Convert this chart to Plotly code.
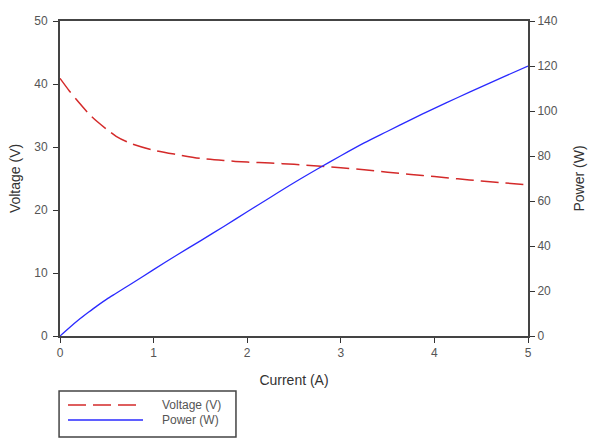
import plotly.graph_objects as go

current = [0, 0.1, 0.2, 0.3, 0.4, 0.5, 0.6, 0.75, 1.0, 1.25, 1.5, 1.75, 2.0, 2.25, 2.5, 2.75, 3.0, 3.25, 3.5, 3.75, 4.0, 4.25, 4.5, 4.75, 5.0]
voltage = [40.9, 38.9, 37.1, 35.4, 34.0, 32.8, 31.7, 30.6, 29.5, 28.8, 28.2, 27.85, 27.6, 27.45, 27.25, 27.0, 26.7, 26.4, 26.0, 25.65, 25.3, 24.95, 24.6, 24.3, 24.0]
power = [0, 3.7, 7.2, 10.4, 13.5, 16.4, 19.0, 22.9, 29.5, 36.0, 42.3, 48.7, 55.2, 61.7, 68.1, 74.2, 80.1, 85.8, 91.0, 96.2, 101.2, 106.0, 110.7, 115.4, 120.0]

legend_labels = ["Voltage (V)", "Power (W)"]

RED = "#d42a2a"
BLUE = "#2a2aff"
FONT = "Liberation Sans, Arial, sans-serif"
TITLE_FONT = dict(family=FONT, size=14, color="#333")

fig = go.Figure()
fig.add_trace(go.Scatter(x=current, y=voltage, mode="lines", name=legend_labels[0], showlegend=False,
                         line=dict(color=RED, width=1.5, dash="18px,7px", shape="spline", smoothing=0.8)))
fig.add_trace(go.Scatter(x=current, y=power, mode="lines", name=legend_labels[1], yaxis="y2", showlegend=False,
                         line=dict(color=BLUE, width=1.3, shape="spline", smoothing=0.8)))

axis_common = dict(showgrid=False, zeroline=False, ticks="outside", ticklen=5,
                   tickcolor="#333", linecolor="#444", linewidth=2,
                   tickfont=dict(family=FONT, size=12, color="#555"))

# Manual legend box (paper coordinates relative to plot area)
row_y = [-0.2190, -0.2667]
shapes = [
    dict(type="rect", xref="paper", yref="paper", x0=-0.002, x1=0.376, y0=-0.3206, y1=-0.1746,
         line=dict(color="#444", width=1.5), fillcolor="white", layer="above"),
    dict(type="line", xref="paper", yref="paper", x0=0.0171, x1=0.1774, y0=row_y[0], y1=row_y[0],
         line=dict(color=RED, width=1.5, dash="18px,7px")),
    dict(type="line", xref="paper", yref="paper", x0=0.0171, x1=0.1774, y0=row_y[1], y1=row_y[1],
         line=dict(color=BLUE, width=1.3)),
]
annotations = [
    dict(text=legend_labels[i], xref="paper", yref="paper", x=0.2137, y=row_y[i], xanchor="left",
         yanchor="middle", showarrow=False, font=dict(family=FONT, size=12, color="#555"))
    for i in range(2)
]

fig.update_layout(
    width=593, height=441,
    margin=dict(l=60, r=65, t=21, b=105, autoexpand=False),
    paper_bgcolor="white", plot_bgcolor="white",
    font=dict(family=FONT, color="#222"),
    showlegend=False,
    shapes=shapes,
    annotations=annotations,
    xaxis=dict(range=[0, 5], tickvals=[0, 1, 2, 3, 4, 5], mirror=True,
               title=dict(text="Current (A)", font=TITLE_FONT, standoff=16),
               **axis_common),
    yaxis=dict(range=[0, 50], tickvals=[0, 10, 20, 30, 40, 50], ticklabelstandoff=3,
               title=dict(text="Voltage (V)", font=TITLE_FONT, standoff=10),
               **axis_common),
    yaxis2=dict(range=[0, 140], tickvals=[0, 20, 40, 60, 80, 100, 120, 140],
                overlaying="y", side="right",
                title=dict(text="Power (W)", font=TITLE_FONT, standoff=17),
                **axis_common),
)

fig.write_html("out.html")
